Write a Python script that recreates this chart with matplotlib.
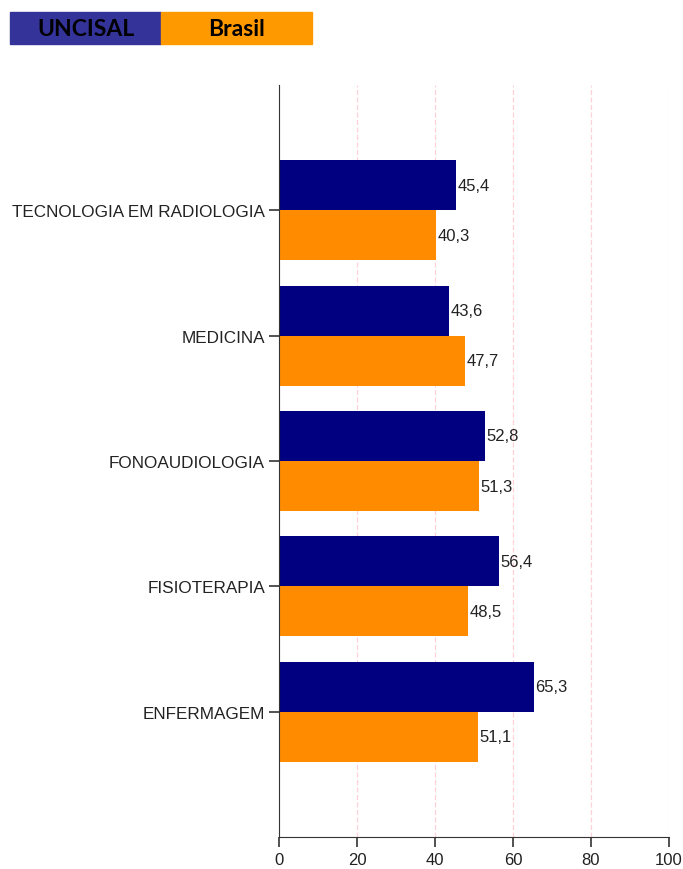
import numpy as np
import matplotlib.pyplot as plt
from matplotlib.patches import Rectangle

courses = ['TECNOLOGIA EM RADIOLOGIA', 'MEDICINA', 'FONOAUDIOLOGIA', 'FISIOTERAPIA', 'ENFERMAGEM']
uncisal = [45.4, 43.6, 52.8, 56.4, 65.3]
brasil = [40.3, 47.7, 51.3, 48.5, 51.1]
series = ['UNCISAL', 'Brasil']

plt.rcParams['font.family'] = ['Liberation Sans', 'DejaVu Sans']
fig = plt.figure(figsize=(6.83, 8.70), dpi=100)
ax = fig.add_axes([279/683, 32/870, 390/683, 752/870])

y = np.arange(len(courses))
h = 0.4
b1 = ax.barh(y - h/2, uncisal, height=h, color='#000080')
b2 = ax.barh(y + h/2, brasil, height=h, color='#FF8C00')
for bars, vals in ((b1, uncisal), (b2, brasil)):
    for rect, v in zip(bars, vals):
        ax.text(rect.get_width() + 0.3, rect.get_y() + rect.get_height()/2,
                f'{v:.1f}'.replace('.', ','), va='center', ha='left', fontsize=12, color='#222222')

ax.set_xlim(0, 100)
ax.set_ylim(len(courses), -1)
ax.set_yticks(y)
ax.set_yticklabels(courses, fontsize=12.3, color='#222222')
ax.set_xticks(np.arange(0, 101, 20))
ax.tick_params(axis='x', labelsize=12, length=7, width=1.2, color='#333333', labelcolor='#222222')
ax.tick_params(axis='y', length=7, width=1.2, color='#333333', pad=3)
ax.xaxis.grid(True, color='#ffd0da', linestyle=(0, (4, 2)), linewidth=0.9)
ax.set_axisbelow(True)
for s in ('top', 'right'):
    ax.spines[s].set_visible(False)
for s in ('left', 'bottom'):
    ax.spines[s].set_color('#333333')

# legend boxes at top left
leg_colors = ['#333399', '#FF9900']
x0 = 10
for name, c in zip(series, leg_colors):
    fig.patches.append(Rectangle((x0/683, 1 - 45/870), 151/683, 32/870,
                                 transform=fig.transFigure, color=c))
    fig.text((x0 + 75.5)/683, 1 - 29/870, name, ha='center', va='center',
             fontsize=16.5, fontweight='bold', family=['Lato', 'DejaVu Sans'], color='black')
    x0 += 151

fig.savefig('out.png', dpi=100)
